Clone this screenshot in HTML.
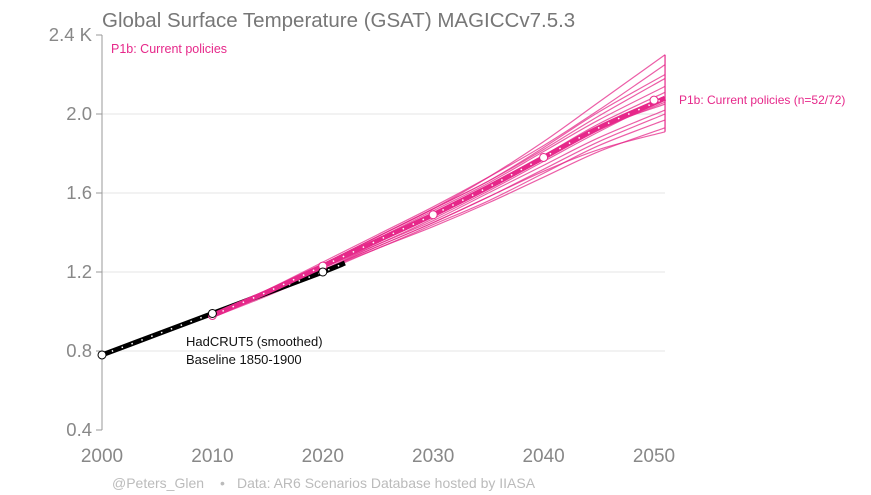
<!DOCTYPE html>
<html><head><meta charset="utf-8"><style>
body{margin:0;background:#fff;font-family:"Liberation Sans",sans-serif}
svg{display:block}
</style></head><body>
<svg width="871" height="495" id="c">
<text x="102" y="27" font-size="20.5" fill="#777">Global Surface Temperature (GSAT) MAGICCv7.5.3</text>
<text x="111" y="53" font-size="12.5" fill="#e6288a">P1b: Current policies</text>
<g id="grid"></g>
<line x1="102" y1="35" x2="102" y2="430" stroke="#999" stroke-width="1"/>
<g id="ens"></g>
<g id="hist"></g>
<g id="med"></g>
<text x="679" y="104" font-size="12" fill="#e6288a">P1b: Current policies (n=52/72)</text>
<text x="186" y="346" font-size="13" fill="#111">HadCRUT5 (smoothed)</text>
<text x="186" y="364" font-size="13" fill="#111">Baseline 1850-1900</text>
<text x="112" y="488" font-size="14" fill="#bbb">@Peters_Glen</text>
<text x="220" y="488" font-size="14" fill="#bbb">•</text>
<text x="237" y="488" font-size="14" fill="#bbb">Data: AR6 Scenarios Database hosted by IIASA</text>
</svg>
<script>
const yTicks=[0.4,0.8,1.2,1.6,2.0,2.4];
const yTickLabels=["0.4","0.8","1.2","1.6","2.0","2.4 K"];
const xTicks=[2000,2010,2020,2030,2040,2050];
const ensYears=[2010,2015,2020,2025,2030,2035,2040,2045,2051];
const medianVals=[0.98,1.10,1.23,1.36,1.49,1.63,1.78,1.93,2.08];
const member1=[0.98,1.11,1.24,1.38,1.52,1.68,1.86,2.06,2.30];
const member2=[0.98,1.11,1.25,1.39,1.53,1.68,1.84,2.02,2.25];
const member3=[0.98,1.10,1.24,1.38,1.52,1.66,1.82,1.99,2.18];
const member4=[0.97,1.10,1.23,1.37,1.51,1.65,1.81,1.97,2.14];
const member5=[0.98,1.10,1.23,1.36,1.50,1.64,1.79,1.95,2.11];
const member6=[0.97,1.09,1.22,1.35,1.48,1.62,1.77,1.92,2.06];
const member7=[0.97,1.09,1.21,1.34,1.46,1.60,1.74,1.88,2.02];
const member8=[0.98,1.09,1.21,1.33,1.45,1.58,1.72,1.86,2.00];
const member9=[0.97,1.09,1.21,1.32,1.44,1.56,1.70,1.84,1.97];
const member10=[0.97,1.08,1.20,1.32,1.43,1.55,1.68,1.81,1.93];
const member11=[0.97,1.09,1.22,1.34,1.47,1.61,1.76,1.91,2.08];
const member12=[0.98,1.10,1.23,1.36,1.50,1.64,1.78,1.93,2.05];
const member13=[0.97,1.09,1.21,1.33,1.45,1.58,1.71,1.82,1.91];
const member14=[0.98,1.10,1.24,1.38,1.52,1.66,1.83,2.01,2.20];
const histYears=[2000,2005,2010,2015,2020,2022];
const histVals=[0.78,0.885,0.99,1.095,1.20,1.245];
const histMarkYears=[2000,2010,2020];
const histMarkVals=[0.78,0.99,1.20];
const medMarkYears=[2010,2020,2030,2040,2050];
const medMarkVals=[0.98,1.23,1.49,1.78,2.07];

const NS="http://www.w3.org/2000/svg";
const X=y=>102+(y-2000)*11.04;
const Y=v=>430-(v-0.4)*197.5;
function mk(t,a,p){const e=document.createElementNS(NS,t);for(const k in a)e.setAttribute(k,a[k]);p.appendChild(e);return e;}
function path(xs,vs){let p=xs.map((x,i)=>[X(x),Y(vs[i])]);let d="M"+p[0];for(let i=0;i<p.length-1;i++){const p0=p[i-1]||p[i],p1=p[i],p2=p[i+1],p3=p[i+2]||p2;d+=" C"+(p1[0]+(p2[0]-p0[0])/6)+","+(p1[1]+(p2[1]-p0[1])/6)+" "+(p2[0]-(p3[0]-p1[0])/6)+","+(p2[1]-(p3[1]-p1[1])/6)+" "+p2;}return d;}
const grid=document.getElementById('grid');
yTicks.forEach((t,i)=>{
 if(i>0&&i<yTicks.length-1){const g=mk('line',{x1:102,x2:665,y1:Y(t),y2:Y(t),stroke:'#e6e6e6','stroke-width':1},grid);
 
 }
 const tk=mk('line',{x1:96,x2:102,y1:Y(t),y2:Y(t),stroke:'#999'},grid);
 
 
 const l=mk('text',{x:92,y:Y(t)+6,'text-anchor':'end','font-size':18.5,fill:'#888'},grid);l.textContent=yTickLabels[i];
 
 
});
xTicks.forEach(t=>{
 const l=mk('text',{x:X(t),y:462,'text-anchor':'middle','font-size':19,fill:'#888'},grid);l.textContent=t;
 
 
});
const ens=document.getElementById('ens');
[member1,member2,member3,member4,member5,member6,member7,member8,member9,member10,member11,member12,member13,member14].forEach(m=>{
 const p=mk('path',{d:path(ensYears,m),fill:'none',stroke:'#e6288a','stroke-width':1.2,opacity:0.75},ens);
 
 
});
const vb=mk('line',{x1:X(2051),x2:X(2051),y1:Y(member1[8]),y2:Y(member13[8]),stroke:'#e6288a','stroke-width':1.2},ens);


const hist=document.getElementById('hist');
const hl=mk('path',{d:path(histYears,histVals),fill:'none',stroke:'#000','stroke-width':5},hist);


const hd=mk('path',{d:path(histYears,histVals),fill:'none',stroke:'#fff','stroke-width':1.5,'stroke-dasharray':'1.5 9'},hist);


const med=document.getElementById('med');
const ml=mk('path',{d:path(ensYears,medianVals),fill:'none',stroke:'#e6288a','stroke-width':5},med);


const md=mk('path',{d:path(ensYears,medianVals),fill:'none',stroke:'#fff','stroke-width':1.5,'stroke-dasharray':'1.5 9.5'},med);


medMarkYears.forEach((y,i)=>{
 const c=mk('circle',{cx:X(y),cy:Y(medMarkVals[i]),r:4,fill:'#fff',stroke:'#e6288a','stroke-width':1},med);
 
 
});
histMarkYears.forEach((y,i)=>{
 const c=mk('circle',{cx:X(y),cy:Y(histMarkVals[i]),r:4,fill:'#fff',stroke:'#000','stroke-width':1},med);
 
 
});
</script>
</body></html>
